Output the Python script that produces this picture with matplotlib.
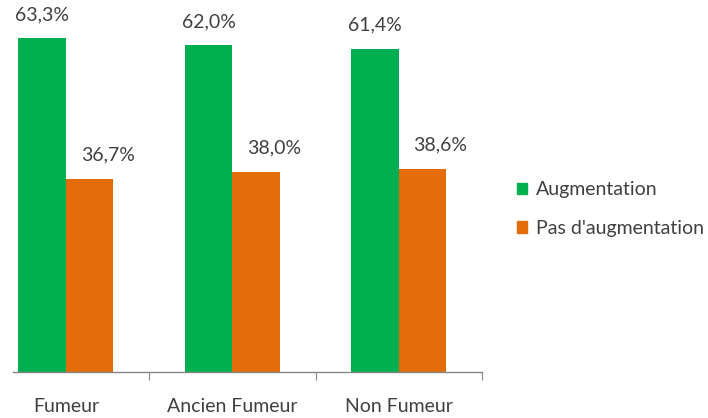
import matplotlib
matplotlib.use("Agg")
import matplotlib.pyplot as plt
import numpy as np
from matplotlib.patches import Patch

categories = ["Fumeur", "Ancien Fumeur", "Non Fumeur"]
series_names = ["Augmentation", "Pas d'augmentation"]
augmentation = [63.3, 62.0, 61.4]
pas_augmentation = [36.7, 38.0, 38.6]
colors = ["#00B050", "#E46C0A"]

plt.rcParams['font.family'] = ['Lato', 'DejaVu Sans']
W, H = 708, 418
fig = plt.figure(figsize=(W / 100, H / 100), dpi=100)
left, right, bottom, top = 13, 482, 372, 0
ax = fig.add_axes([left / W, (H - bottom) / H, (right - left) / W, (bottom - top) / H])

x = np.arange(len(categories))
bw = 0.285
b1 = ax.bar(x - bw / 2, augmentation, bw, color=colors[0])
b2 = ax.bar(x + bw / 2, pas_augmentation, bw, color=colors[1])

fs = 14
for bars, vals, dx in ((b1, augmentation, 0), (b2, pas_augmentation, 13)):
    for r, v in zip(bars, vals):
        ax.annotate(f"{v:.1f}%".replace(".", ","), (r.get_x() + r.get_width() / 2, v),
                    xytext=(dx, 17), textcoords="offset points", ha="center", va="center",
                    fontsize=fs, color="#404040", annotation_clip=False)

ax.set_xlim(-0.318, 2.5)
ax.set_ylim(0, 372 / (333.5 / 63.3))
for s in ("top", "right", "left"):
    ax.spines[s].set_visible(False)
ax.spines["bottom"].set_color("#868686")
ax.spines["bottom"].set_linewidth(1)
ax.set_yticks([])
ax.set_xticks([0.5, 1.5, 2.5])
ax.set_xticklabels([])
ax.tick_params(axis="x", length=6, color="#868686", direction="out")
for i, c in enumerate(categories):
    ax.text(i, -34 / (333.5 / 63.3), c, ha="center", va="center", fontsize=fs,
            color="#404040", clip_on=False)

handles = [Patch(color=c, label=n) for c, n in zip(colors, series_names)]
fig.legend(handles=handles, loc="center left", bbox_to_anchor=(507 / W, 1 - 209 / H),
           frameon=False, fontsize=fs, handlelength=0.55, handleheight=0.55,
           handletextpad=0.45, labelspacing=1.1, labelcolor="#404040", borderpad=0)

fig.savefig("out.png", dpi=100)
